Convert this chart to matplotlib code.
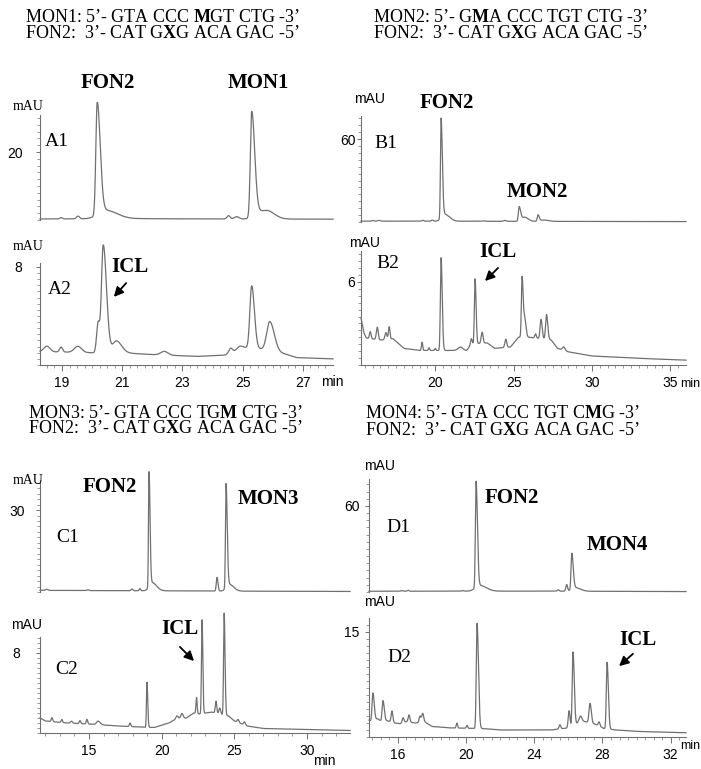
import matplotlib
matplotlib.use("Agg")
import matplotlib.pyplot as plt
from matplotlib.ticker import FixedLocator
import numpy as np

plt.rcParams['font.family'] = ['Liberation Serif', 'DejaVu Serif']
plt.rcParams['mathtext.fontset'] = 'custom'
plt.rcParams['mathtext.rm'] = 'Liberation Serif'
plt.rcParams['mathtext.bf'] = 'Liberation Serif:bold'

# ---- data (min, mAU) ----
# A1
a1_bl_t = [18.27, 20.0, 21.5, 24.0, 28.0]
a1_bl_y = [0.3, 0.35, 0.4, 0.3, 0.25]
a1_rt = [18.97, 19.53, 20.17, 20.45, 24.53, 24.8, 25.3, 25.6, 25.9]
a1_h = [0.4, 0.8, 33.0, 2.5, 1.0, 0.7, 31.0, 2.2, 1.0]
a1_w = [0.04, 0.05, 0.045, 0.25, 0.05, 0.08, 0.045, 0.2, 0.15]
a1_tail = [1, 1, 2.2, 1.5, 1, 1, 2.2, 1.5, 1.5]
# A2
a2_bl_t = [18.27, 20.0, 21.3, 22.0, 23.5, 24.4, 25.1, 25.6, 26.4, 26.8, 28.0]
a2_bl_y = [1.1, 1.0, 0.95, 0.85, 0.7, 0.8, 1.4, 1.3, 0.9, 0.6, 0.5]
a2_rt = [18.5, 18.97, 19.53, 20.2, 20.37, 20.8, 22.4, 24.6, 24.9, 25.3, 25.9]
a2_h = [0.45, 0.4, 0.5, 2.4, 8.8, 1.0, 0.3, 0.4, 0.3, 5.1, 2.4]
a2_w = [0.1, 0.05, 0.12, 0.05, 0.06, 0.12, 0.12, 0.06, 0.1, 0.06, 0.1]
a2_tail = [1, 1, 1, 1, 1.8, 1.5, 1, 1, 1, 1.5, 1.5]
# B1
b1_bl_t = [15.26, 20.0, 25.0, 30.0, 36.0]
b1_bl_y = [0.6, 0.6, 0.5, 0.4, 0.3]
b1_rt = [16.0, 16.4, 19.2, 19.8, 20.37, 20.6, 23.05, 24.45, 25.35, 25.7, 26.56, 26.9]
b1_h = [0.5, 0.6, 0.6, 0.8, 72.0, 5.0, 0.3, 0.6, 10.5, 3.0, 4.5, 1.0]
b1_w = [0.06, 0.08, 0.06, 0.06, 0.04, 0.2, 0.08, 0.08, 0.05, 0.15, 0.05, 0.2]
b1_tail = [1, 1, 1, 1, 2.0, 1.5, 1, 1, 2.0, 1.5, 1.5, 1.5]
# B2
b2_bl_t = [15.26, 15.45, 15.6, 16.5, 17.3, 17.6, 18.0, 19.0, 21.0, 22.0, 22.3, 23.3,
           23.8, 24.8, 25.3, 26.0, 27.4, 27.8, 28.5, 30.0, 33.0, 36.0]
b2_bl_y = [3.4, 2.3, 1.95, 1.8, 1.9, 1.6, 1.2, 1.05, 1.05, 1.05, 1.5, 1.6,
           1.2, 1.3, 2.0, 2.0, 1.8, 1.2, 0.95, 0.65, 0.48, 0.35]
b2_rt = [15.85, 16.3, 16.85, 17.06, 19.16, 19.6, 20.0, 20.37, 21.6, 22.3, 22.54, 22.99,
         24.5, 25.54, 25.7, 26.4, 26.75, 27.1, 28.2]
b2_h = [0.5, 0.9, 0.5, 0.9, 0.6, 0.2, 0.15, 6.7, 0.25, 0.4, 4.7, 0.8,
        0.6, 4.3, 1.4, 0.3, 1.4, 1.8, 0.25]
b2_w = [0.05, 0.06, 0.06, 0.05, 0.04, 0.04, 0.04, 0.045, 0.15, 0.05, 0.045, 0.06,
        0.06, 0.045, 0.07, 0.05, 0.06, 0.06, 0.08]
b2_tail = [1, 1, 1, 1, 1, 1, 1, 1.6, 1, 1, 1.4, 1, 1, 1.4, 1.2, 1, 1.2, 1.3, 1]
# C1
c1_bl_t = [11.63, 16.0, 22.0, 26.0, 33.0]
c1_bl_y = [0.6, 0.5, 0.4, 0.3, 0.2]
c1_rt = [12.1, 14.93, 17.96, 18.5, 19.13, 19.35, 23.81, 24.43, 24.65]
c1_h = [0.4, 0.3, 0.6, 0.8, 42.0, 3.0, 5.0, 38.0, 2.5]
c1_w = [0.08, 0.06, 0.06, 0.05, 0.035, 0.2, 0.05, 0.04, 0.2]
c1_tail = [1, 1, 1, 1, 2.0, 1.5, 1.3, 2.0, 1.5]
# C2
c2_bl_t = [11.63, 12.0, 13.5, 15.0, 16.0, 17.0, 18.5, 19.5, 20.5, 21.0, 21.7, 22.2,
           22.65, 23.4, 24.6, 25.0, 25.9, 27.0, 33.0]
c2_bl_y = [1.5, 1.2, 1.0, 0.9, 0.8, 0.7, 0.6, 0.55, 1.0, 1.4, 1.5, 2.0,
           1.9, 2.1, 1.7, 1.2, 0.7, 0.45, 0.25]
c2_rt = [12.45, 13.13, 13.8, 14.38, 14.86, 15.62, 17.83, 18.99, 21.06, 21.4, 22.4, 22.78,
         23.74, 24.0, 24.3, 25.26, 25.7]
c2_h = [0.4, 0.3, 0.2, 0.3, 0.45, 0.35, 0.35, 4.5, 0.3, 0.5, 1.6, 9.4,
        1.2, 0.6, 10.2, 0.3, 0.3]
c2_w = [0.05, 0.05, 0.07, 0.05, 0.05, 0.1, 0.05, 0.035, 0.08, 0.08, 0.04, 0.04,
        0.05, 0.06, 0.04, 0.06, 0.06]
c2_tail = [1, 1, 1, 1, 1, 1.5, 1, 1.5, 1, 1, 1, 1.3, 1, 1, 1.5, 1, 1]
# D1
d1_bl_t = [14.3, 20.0, 25.0, 33.0]
d1_bl_y = [0.5, 0.6, 0.6, 0.3]
d1_rt = [16.24, 16.59, 19.8, 20.58, 20.8, 25.4, 25.9, 26.2, 26.4]
d1_h = [0.5, 0.7, 0.4, 74.0, 4.0, 1.0, 4.5, 25.0, 2.5]
d1_w = [0.05, 0.05, 0.05, 0.04, 0.25, 0.05, 0.05, 0.045, 0.2]
d1_tail = [1, 1, 1, 2.0, 1.5, 1, 1, 1.8, 1.5]
# D2
d2_bl_t = [14.3, 14.45, 14.8, 15.0, 15.4, 15.8, 16.1, 16.5, 17.0, 17.6, 18.0, 19.0,
           21.0, 22.0, 25.0, 26.0, 26.8, 27.6, 28.1, 28.8, 30.0, 33.0]
d2_bl_y = [2.4, 2.2, 2.6, 2.3, 2.3, 2.0, 1.9, 2.2, 2.0, 2.1, 1.5, 1.3,
           1.2, 1.0, 1.0, 1.3, 2.3, 1.8, 1.2, 1.0, 0.8, 0.6]
d2_rt = [14.53, 15.12, 15.65, 16.3, 16.65, 17.29, 17.45, 19.46, 20.05, 20.64, 25.5, 26.04,
         26.27, 26.7, 27.27, 27.8, 28.27]
d2_h = [4.0, 2.9, 1.6, 0.7, 1.0, 0.9, 1.3, 0.7, 0.4, 15.0, 0.6, 2.4,
        10.5, 0.8, 2.8, 0.6, 9.5]
d2_w = [0.05, 0.05, 0.05, 0.05, 0.05, 0.05, 0.06, 0.04, 0.04, 0.045, 0.05, 0.05,
        0.045, 0.08, 0.06, 0.05, 0.045]
d2_tail = [1.5, 1.5, 1, 1, 1, 1, 1, 1, 1, 1.8, 1, 1, 1.6, 1, 1.2, 1, 1.6]

# sequence headers (bold = modified base)
hdr_a = ["MON1: 5\u2019- GTA CCC $\\mathbf{M}$GT CTG -3\u2019",
         "FON2:  3\u2019- CAT G$\\mathbf{X}$G ACA GAC -5\u2019"]
hdr_b = ["MON2: 5\u2019- G$\\mathbf{M}$A CCC TGT CTG -3\u2019",
         "FON2:  3\u2019- CAT G$\\mathbf{X}$G ACA GAC -5\u2019"]
hdr_c = ["MON3: 5\u2019- GTA CCC TG$\\mathbf{M}$ CTG -3\u2019",
         "FON2:  3\u2019- CAT G$\\mathbf{X}$G ACA GAC -5\u2019"]
hdr_d = ["MON4: 5\u2019- GTA CCC TGT C$\\mathbf{M}$G -3\u2019",
         "FON2:  3\u2019- CAT G$\\mathbf{X}$G ACA GAC -5\u2019"]

W, H = 701, 769
fig = plt.figure(figsize=(W / 100, H / 100), dpi=100)
LINE = "#707070"
SANS = "Liberation Sans"


def fx(x):
    return x / W


def fy(y):
    return 1 - y / H


def trace(t, bl_t, bl_y, rt, h, w, tail):
    y = np.interp(t, bl_t, bl_y)
    for r, hh, ww, tt in zip(rt, h, w, tail):
        s = np.where(t < r, ww, ww * tt)
        y = y + hh * np.exp(-0.5 * ((t - r) / s) ** 2)
    return y


def panel(box, xlim, ytop, spine_top, ytick, yminor, data, bottom_axis=False,
          xticks=None, xminor=None, ypad=7):
    l, t, r, b = box
    ax = fig.add_axes([fx(l), fy(b), (r - l) / W, (b - t) / H])
    ax.patch.set_alpha(0)
    tt = np.linspace(xlim[0], xlim[1], 4000)
    ax.plot(tt, trace(tt, *data), color=LINE, lw=0.9, clip_on=False)
    ax.set_xlim(xlim)
    ax.set_ylim(0, ytop)
    for s in ["top", "right"]:
        ax.spines[s].set_visible(False)
    ax.spines["left"].set_bounds(0, spine_top)
    ax.spines["left"].set_color(LINE)
    ax.spines["left"].set_linewidth(0.8)
    ax.yaxis.set_major_locator(FixedLocator([ytick]))
    ax.yaxis.set_minor_locator(FixedLocator(np.arange(0, spine_top, yminor)))
    ax.tick_params(axis="y", which="major", length=3, width=0.7, color=LINE,
                   pad=ypad, labelsize=10)
    ax.tick_params(axis="y", which="minor", length=2, width=0.5, color=LINE)
    for lab in ax.get_yticklabels():
        lab.set_family(SANS)
    if bottom_axis:
        ax.spines["bottom"].set_color(LINE)
        ax.spines["bottom"].set_linewidth(0.8)
        ax.xaxis.set_major_locator(FixedLocator(xticks))
        first = xlim[0] - xlim[0] % xminor + xminor
        ax.xaxis.set_minor_locator(FixedLocator(np.arange(first, xlim[1], xminor)))
        ax.tick_params(axis="x", which="major", length=4, width=0.7, color=LINE,
                       pad=4, labelsize=10)
        ax.tick_params(axis="x", which="minor", length=2, width=0.5, color=LINE)
        for lab in ax.get_xticklabels():
            lab.set_family(SANS)
    else:
        ax.spines["bottom"].set_visible(False)
        ax.set_xticks([])
    return ax


def txt(x, y, s, size=14, weight="normal", family=None, ha="center"):
    kw = {}
    if family:
        kw["family"] = family
    fig.text(fx(x), fy(y), s, fontsize=size, weight=weight, ha=ha, va="center", **kw)


def arrow(x0, y0, x1, y1):
    fig.add_artist(matplotlib.patches.FancyArrowPatch(
        (fx(x0), fy(y0)), (fx(x1), fy(y1)), transform=fig.transFigure,
        arrowstyle="-|>", mutation_scale=14, lw=1.3, color="black"))


# headers
for (x, y), hdr in [((25, 17), hdr_a), ((373, 17), hdr_b), ((28, 413), hdr_c), ((365, 414), hdr_d)]:
    txt(x, y, hdr[0], size=13, ha="left")
    txt(x, y + 16, hdr[1], size=13, ha="left")

# A
panel((40, 95, 333, 220), (18.27, 28.0), 36.8, 31, 20, 2,
      (a1_bl_t, a1_bl_y, a1_rt, a1_h, a1_w, a1_tail), ypad=9)
panel((40, 235, 333, 365), (18.27, 28.0), 10.6, 8.3, 8, 0.5,
      (a2_bl_t, a2_bl_y, a2_rt, a2_h, a2_w, a2_tail), True,
      [19, 21, 23, 25, 27], 0.25, ypad=10)
# B
panel((361, 110, 686, 222), (15.26, 36.0), 81, 77, 60, 5,
      (b1_bl_t, b1_bl_y, b1_rt, b1_h, b1_w, b1_tail), ypad=1)
panel((361, 250, 686, 365), (15.26, 36.0), 8.3, 8.2, 6, 0.5,
      (b2_bl_t, b2_bl_y, b2_rt, b2_h, b2_w, b2_tail), True,
      [20, 25, 30, 35], 0.5, ypad=1)
# C
panel((40, 465, 350, 592), (11.63, 32.96), 46.5, 41, 30, 2,
      (c1_bl_t, c1_bl_y, c1_rt, c1_h, c1_w, c1_tail), ypad=8)
panel((40, 605, 350, 733), (11.63, 32.96), 12.8, 9.6, 8, 0.5,
      (c2_bl_t, c2_bl_y, c2_rt, c2_h, c2_w, c2_tail), True,
      [15, 20, 25, 30], 1, ypad=11)
# D
panel((369, 475, 686, 592), (14.3, 32.9), 81.6, 79, 60, 5,
      (d1_bl_t, d1_bl_y, d1_rt, d1_h, d1_w, d1_tail), ypad=4)
panel((369, 615, 686, 737), (14.3, 32.9), 17.4, 17, 15, 1,
      (d2_bl_t, d2_bl_y, d2_rt, d2_h, d2_w, d2_tail), True,
      [16, 20, 24, 28, 32], 0.5, ypad=4)

# mAU labels
for x, y, fam in [(28, 106, None), (28, 247, None), (370, 99, SANS), (365, 243, SANS),
                  (28, 481, None), (27, 625, SANS), (380, 466, SANS), (380, 602, SANS)]:
    txt(x, y, "mAU", size=10, family=fam)

# min labels
txt(332, 382, "min", size=10, family=SANS)
txt(700, 384, "min", size=9, family=SANS, ha="right")
txt(324, 761, "min", size=10, family=SANS)
txt(700, 746, "min", size=9, family=SANS, ha="right")

# panel ids
for x, y, s in [(57, 142, "A1"), (60, 290, "A2"), (386, 143, "B1"), (388, 263, "B2"),
                (68, 537, "C1"), (67, 670, "C2"), (398, 527, "D1"), (399, 657, "D2")]:
    txt(x, y, s, size=14)

# peak names
for x, y, s in [(108, 83, "FON2"), (258, 83, "MON1"), (447, 103, "FON2"), (537, 192, "MON2"),
                (110, 487, "FON2"), (268, 499, "MON3"), (512, 498, "FON2"), (617, 545, "MON4"),
                (130, 267, "ICL"), (498, 252, "ICL"), (180, 629, "ICL"), (638, 640, "ICL")]:
    txt(x, y, s, size=15, weight="bold")

arrow(128, 281, 112, 299)
arrow(500, 266, 483, 283)
arrow(178, 645, 196, 663)
arrow(635, 652, 617, 668)

fig.savefig("out.png", dpi=100)
